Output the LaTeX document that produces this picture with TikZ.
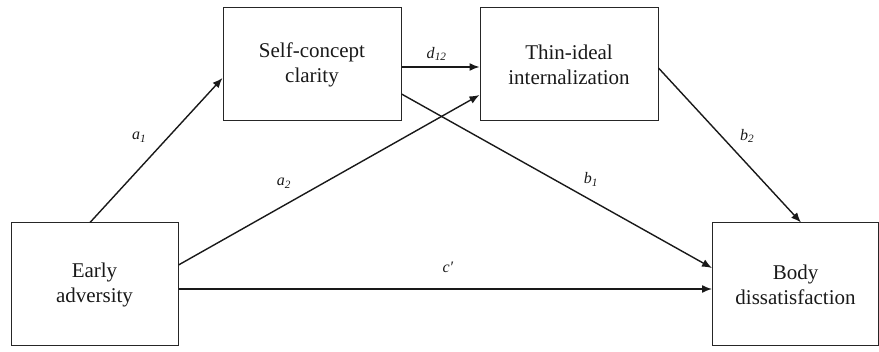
\documentclass[tikz,border=0pt]{standalone}
\usepackage{fontspec}
\setmainfont{Liberation Serif}
\usepackage{tikz}
\usetikzlibrary{arrows.meta, positioning}

\newcommand{\coef}[2]{\textit{#1}\textsubscript{\textit{#2}}}

\begin{document}
\begin{tikzpicture}[x=1pt, y=-1pt,
    box/.style={draw=black!85, line width=1pt, align=center, inner sep=0pt,
        text=black!90, font=\fontsize{21}{25}\selectfont},
    arr/.style={-{Latex[length=10pt, width=8pt]}, line width=1.4pt, draw=black!90},
    lab/.style={inner sep=0pt, text=black!90, font=\fontsize{16}{19}\selectfont}]
    \useasboundingbox (0,0) rectangle (879,352);

    \node[box, minimum width=178pt, minimum height=113pt] (clarity) at (312,64.5) {Self-concept\\clarity};
    \node[box, minimum width=178pt, minimum height=113pt, right=78pt of clarity] (thin) {Thin-ideal\\internalization};
    \node[box, minimum width=167pt, minimum height=123pt] (adversity) at (94.5,284.5) {Early\\adversity};
    \node[box, minimum width=166pt, minimum height=123pt] (body) at (795.5,284.5) {Body\\dissatisfaction};

    \draw[arr] ([xshift=-4.5pt]adversity.north) -- node[lab, pos=0.59, xshift=-29pt] {\coef{a}{1}} ([yshift=-13.5pt]clarity.west);
    \draw[arr] ([yshift=19.5pt]adversity.east) -- node[lab, pos=0.35, yshift=22pt] {\coef{a}{2}} ([yshift=-30.5pt]thin.west);
    \draw[arr] ([yshift=-2.5pt]clarity.east) -- node[lab, pos=0.45, yshift=13pt] {\coef{d}{12}} ([yshift=-2.5pt]thin.west);
    \draw[arr] ([yshift=-29.5pt]clarity.east) -- node[lab, pos=0.61, yshift=20.5pt] {\coef{b}{1}} ([yshift=16.5pt]body.west);
    \draw[arr] ([yshift=-3.5pt]thin.east) -- node[lab, pos=0.44, xshift=26pt] {\coef{b}{2}} ([xshift=5.5pt]body.north);
    \draw[arr] ([yshift=-4.5pt]adversity.east) -- node[lab, pos=0.505, yshift=21.5pt] {\textit{c′}} ([yshift=-4.5pt]body.west);
\end{tikzpicture}
\end{document}
